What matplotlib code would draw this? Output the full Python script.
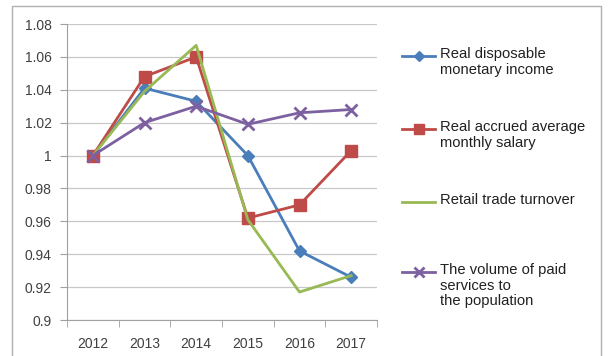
import matplotlib.pyplot as plt
from matplotlib.lines import Line2D
from matplotlib.patches import Rectangle

years = ['2012', '2013', '2014', '2015', '2016', '2017']
income = [1.000, 1.041, 1.033, 1.000, 0.942, 0.926]
salary = [1.000, 1.048, 1.060, 0.962, 0.970, 1.003]
retail = [1.000, 1.039, 1.067, 0.961, 0.917, 0.927]
services = [1.000, 1.020, 1.030, 1.019, 1.026, 1.028]
yticks = [0.9, 0.92, 0.94, 0.96, 0.98, 1.0, 1.02, 1.04, 1.06, 1.08]

series = [
    ('Real disposable\nmonetary income', income, '#4A7EBB', 'D', 6),
    ('Real accrued average\nmonthly salary', salary, '#BE4B48', 's', 8),
    ('Retail trade turnover', retail, '#98B954', None, 0),
    ('The volume of paid\nservices to\nthe population', services, '#7D60A0', 'x', 8),
]

plt.rcParams['font.family'] = ['Liberation Sans', 'DejaVu Sans']

fig = plt.figure(figsize=(6.08, 3.56), dpi=100)
ax = fig.add_axes([67 / 608, 1 - 320 / 356, 310 / 608, 296 / 356])

# outer chart frame (bottom edge cropped off in the original)
fig.patches.append(Rectangle((12 / 608, -0.05), 589 / 608, 1.05 - 6 / 356,
                             transform=fig.transFigure, fill=False,
                             edgecolor='#B0B0B0', linewidth=1))

x = list(range(len(years)))
for label, vals, color, marker, ms in series:
    ax.plot(x, vals, color=color, lw=2, marker=marker, markersize=ms,
            markeredgewidth=2 if marker == 'x' else 1, zorder=3)

ax.set_xlim(-0.5, len(years) - 0.5)
ax.set_ylim(0.9, 1.08)
ax.set_xticks(x)
ax.set_xticklabels(years, fontsize=10, color='#404040')
ax.set_xticks([i - 0.5 for i in range(len(years) + 1)], minor=True)
ax.tick_params(axis='x', which='major', length=0, pad=12)
ax.tick_params(axis='x', which='minor', length=5, color='#A0A0A0', direction='out')
ax.set_yticks(yticks)
ax.set_yticklabels([f'{v:g}' for v in yticks], fontsize=10, color='#404040')
ax.tick_params(axis='y', length=5, color='#A0A0A0', pad=6)
ax.grid(axis='y', color='#C8C8C8', lw=0.9)
ax.set_axisbelow(True)
for side in ['top', 'right']:
    ax.spines[side].set_visible(False)
for side in ['left', 'bottom']:
    ax.spines[side].set_color('#A0A0A0')

# legend laid out like the spreadsheet: marker beside the first text line
legend_y = [56, 129, 202, 272]
for (label, vals, color, marker, ms), ly in zip(series, legend_y):
    yf = 1 - ly / 356
    fig.add_artist(Line2D([402 / 608, 418.5 / 608, 435 / 608], [yf, yf, yf],
                          color=color, lw=2, marker=marker,
                          markersize=ms * 0.85, markevery=[1],
                          markeredgewidth=2 if marker == 'x' else 1,
                          transform=fig.transFigure))
    fig.text(440 / 608, yf + 9 / 356, label, fontsize=10.6, va='top', ha='left',
             color='#202020', linespacing=1.15)

fig.savefig('out.png', dpi=100)
